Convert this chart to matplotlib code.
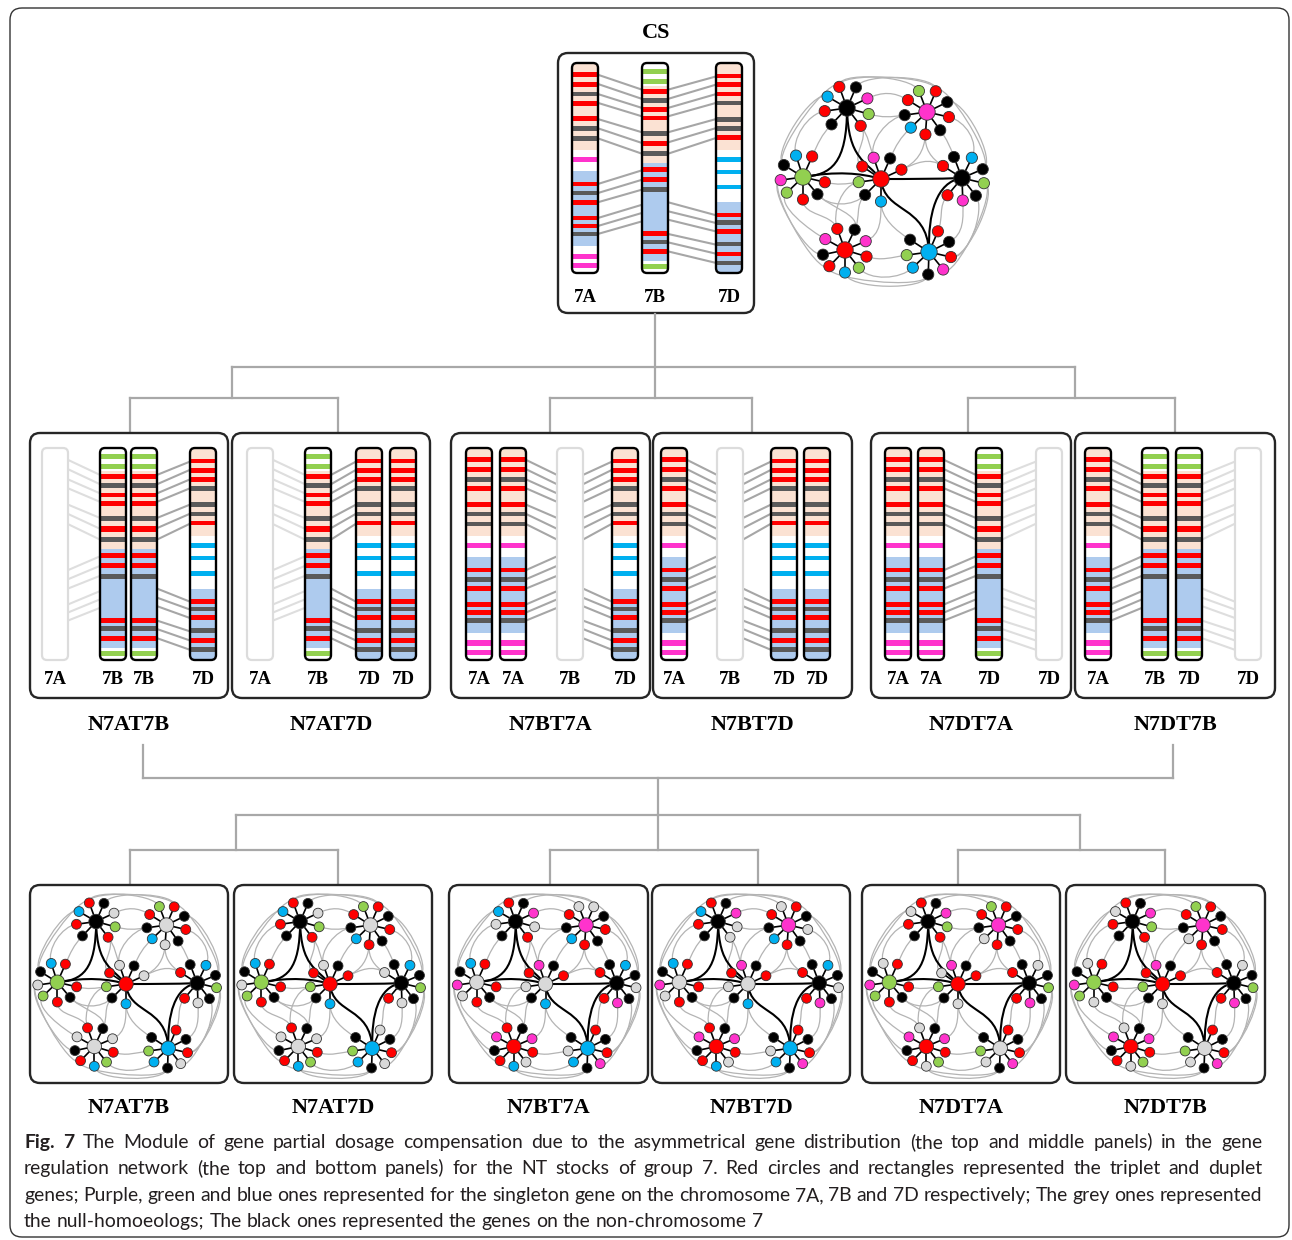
import numpy as np
import matplotlib
matplotlib.use("Agg")
import matplotlib.pyplot as plt
from matplotlib.patches import FancyBboxPatch, Rectangle, Circle, PathPatch
from matplotlib.path import Path

# ---------------------------------------------------------------- colours
COL = {"r": "#ff0000", "k": "#000000", "m": "#ff33cc", "g": "#92d050",
       "b": "#00b0f0", "n": "#d9d9d9", "p": "#fbe2d3", "l": "#aecbee",
       "w": "#ffffff", "d": "#5a5a5a"}

# ---------------------------------------------------------------- chromosome data
# (start, end, colour) as fractions of chromosome length from the top
CHROM_BACKGROUND = {
    "7A": [(0.000, 0.416, "p"), (0.416, 0.516, "w"), (0.516, 0.873, "l"), (0.873, 1.000, "w")],
    "7B": [(0.000, 0.108, "w"), (0.108, 0.476, "p"), (0.476, 0.944, "l"), (0.944, 1.000, "w")],
    "7D": [(0.000, 0.416, "p"), (0.416, 0.663, "w"), (0.663, 1.000, "l")],
}
CHROM_BANDS = {
    "7A": [(0.044, 0.068, "r"), (0.089, 0.113, "r"), (0.137, 0.159, "d"), (0.179, 0.203, "r"),
           (0.254, 0.278, "r"), (0.300, 0.322, "d"), (0.348, 0.370, "d"), (0.449, 0.473, "m"),
           (0.565, 0.587, "r"), (0.610, 0.630, "d"), (0.652, 0.675, "r"), (0.727, 0.749, "r"),
           (0.765, 0.787, "r"), (0.803, 0.825, "d"), (0.908, 0.932, "m"), (0.952, 0.976, "m")],
    "7B": [(0.029, 0.051, "g"), (0.076, 0.098, "g"), (0.124, 0.146, "r"), (0.167, 0.190, "d"),
           (0.210, 0.232, "r"), (0.251, 0.273, "r"), (0.322, 0.346, "d"), (0.370, 0.394, "r"),
           (0.421, 0.444, "d"), (0.497, 0.521, "r"), (0.544, 0.568, "r"), (0.592, 0.616, "d"),
           (0.802, 0.825, "r"), (0.841, 0.863, "d"), (0.886, 0.910, "r"), (0.956, 0.979, "g")],
    "7D": [(0.051, 0.073, "r"), (0.092, 0.116, "r"), (0.137, 0.159, "r"), (0.179, 0.202, "d"),
           (0.257, 0.279, "d"), (0.300, 0.322, "d"), (0.343, 0.365, "r"), (0.449, 0.473, "b"),
           (0.508, 0.530, "b"), (0.579, 0.602, "b"), (0.714, 0.735, "r"), (0.748, 0.770, "d"),
           (0.790, 0.813, "r"), (0.851, 0.873, "d"), (0.898, 0.921, "r"), (0.941, 0.963, "d")],
}
# homoeologous links (left-chromosome position, right-chromosome position)
LINKS_AB = [(0.056, 0.127), (0.100, 0.171), (0.148, 0.214), (0.190, 0.254), (0.267, 0.330),
            (0.311, 0.381), (0.359, 0.432), (0.576, 0.511), (0.619, 0.556), (0.663, 0.603),
            (0.738, 0.675), (0.776, 0.714), (0.814, 0.754)]
LINKS_BD = [(0.127, 0.064), (0.171, 0.103), (0.214, 0.148), (0.254, 0.190), (0.330, 0.267),
            (0.378, 0.310), (0.432, 0.357), (0.663, 0.725), (0.706, 0.762), (0.746, 0.802),
            (0.814, 0.865), (0.854, 0.908), (0.897, 0.952)]

# ---------------------------------------------------------------- stocks
CS_CHROMS = ["7A", "7B", "7D"]
NT_NAMES = ["N7AT7B", "N7AT7D", "N7BT7A", "N7BT7D", "N7DT7A", "N7DT7B"]
NT_CHROMS = [[None, "7B", "7B", "7D"], [None, "7B", "7D", "7D"], ["7A", "7A", None, "7D"],
             ["7A", None, "7D", "7D"], ["7A", "7A", "7B", None], ["7A", "7B", "7B", None]]
NT_LABELS = [["7A", "7B", "7B", "7D"], ["7A", "7B", "7D", "7D"], ["7A", "7A", "7B", "7D"],
             ["7A", "7B", "7D", "7D"], ["7A", "7A", "7D", "7D"], ["7A", "7B", "7D", "7D"]]
# (left slot, right slot, link set, faded)
NT_LINKS = [[(0, 1, "AB", True), (2, 3, "BD", False)],
            [(0, 1, "AB", True), (1, 2, "BD", False)],
            [(1, 2, "AB", False), (2, 3, "BD", False)],
            [(0, 1, "AB", False), (1, 2, "BD", False)],
            [(1, 2, "AB", False), (2, 3, "BD", True)],
            [(0, 1, "AB", False), (2, 3, "BD", True)]]

# ---------------------------------------------------------------- network node colours
# per hub: first letter = hub, remaining letters = satellites
CS_NET = ["kbrkmgrkr", "mgrkrkrbkr", "gbrkmgrkr", "rmkrrgkb", "krkbkgkmr", "rmrkmrgbrk", "bkrkrmkbg"]
NT_NETS = [
    ["kbrkngrkr", "ngrkrknbkr", "gbrkngrkr", "rnkrngkb", "krkbkgknr", "nnrknrgbrk", "bkrkrnkbg"],
    ["kbrkngrkr", "ngrkrkrbkr", "gbrkngrkr", "rnkrrgkb", "knkbkgknr", "nnrknrgbrk", "bknkrnkbg"],
    ["kbrkmnrkn", "mnnkrkrbkr", "nbrkmnrkr", "nmkrrnkb", "krkbknkmr", "rmrkmrnbrk", "bkrkrmkbn"],
    ["kbrkmnnkr", "mnrknkrbkr", "nbrkmnrkr", "nmkrrnkb", "krkbknkmr", "rmrkmrnbrk", "bkrkrmkbn"],
    ["knrkmgrkr", "mgrkrkrnkr", "gnrkmgrkr", "rmknrgkn", "krknkgkmr", "rmnkmrgnrk", "nkrkrmkng"],
    ["knrkmgrkr", "mgrkrkrnkr", "gnrkmgnkr", "rmkrrgkn", "krknkgkmr", "rmnkmrgnrk", "nkrkrmkng"],
]

CAPTION = [
    "Fig. 7 The Module of gene partial dosage compensation due to the asymmetrical gene distribution (the top and middle panels) in the gene",
    "regulation network (the top and bottom panels) for the NT stocks of group 7. Red circles and rectangles represented the triplet and duplet",
    "genes; Purple, green and blue ones represented for the singleton gene on the chromosome 7A, 7B and 7D respectively; The grey ones represented",
    "the null-homoeologs; The black ones represented the genes on the non-chromosome 7",
]

# ---------------------------------------------------------------- layout
W, H = 1292, 1240
CH_W = 26
SERIF = ["Liberation Serif", "DejaVu Serif"]
EDGE = "#262626"
TREE = "#a8a8a8"

MID_BOXES = [(30, 228), (232, 430), (451, 650), (653, 852), (871, 1071), (1075, 1275)]
MID_Y = (433, 698)
MID_SLOTS = [[25, 83, 114, 173], [28, 86, 137, 171], [28, 62, 119, 174],
             [21, 77, 131, 164], [27, 60, 118, 178], [23, 80, 114, 173]]
BOT_BOXES = [(30, 228), (234, 432), (449, 648), (652, 850), (862, 1060), (1066, 1265)]
BOT_Y = (885, 1083)

HUB_OFF = [(-34, -71), (46, -67), (-78, -2), (0, 0), (81, -1), (-36, 71), (48, 73)]
SAT_ANG = [[149.7, 110, 66.5, 25, -15.5, -52.6, 226.7, 188],
           [111, 67, 26, -13, -54, -94, 224, 188, 148],
           [108, 66, 148, 188, 224, 270, 310, 346.6],
           [109, 66, 146, 24.6, 188, 225, 270],
           [147.6, 111, 64, 23, -13.4, -52, -88, 230],
           [151, 110, 64.5, 23, -17, -52, -90, 226, 192],
           [147, 66.7, 26.6, -13, -51, -92, 224, 188]]
SAT_R = 22.5
GREY_EDGES = [((0, 1), (1, 0)), ((0, 2), (1, 1)), ((0, 3), (1, 8)), ((0, 4), (1, 7)), ((0, 5), (3, 0)),
              ((0, 0), (2, 2)), ((0, 7), (2, 0)), ((0, 6), (2, 1)), ((1, 6), (3, 1)), ((1, 5), (3, 3)),
              ((1, 4), (4, 1)), ((1, 3), (4, 2)), ((1, 2), (4, 3)), ((2, 7), (3, 4)), ((2, 6), (3, 5)),
              ((2, 5), (5, 1)), ((2, 4), (5, 0)), ((2, 3), (5, 8)), ((3, 5), (5, 2)), ((3, 6), (5, 3)),
              ((3, 6), (6, 0)), ((3, 3), (4, 0)), ((4, 7), (6, 1)), ((4, 6), (6, 2)), ((4, 5), (6, 3)),
              ((4, 4), (6, 4)), ((5, 4), (6, 7)), ((5, 5), (6, 6)), ((5, 6), (6, 5)), ((2, 2), (0, 1)),
              ((4, 3), (1, 1)), ((2, 3), (5, 7)), ((5, 7), (6, 5)), ((0, 1), (1, 1)), ((4, 4), (6, 3)),
              ((1, 7), (3, 0)), ((3, 4), (5, 1)), ((3, 2), (0, 5)), ((2, 6), (5, 2)), ((1, 5), (4, 0))]
HUB_LINKS = [[(-34, -71), (-34, -15), (-50, -4), (-78, -2)],
             [(-34, -71), (-33, -20), (-15, -18), (0, 0)],
             [(-78, -2), (-45, -8), (-20, -6), (0, 0)],
             [(0, 0), (30, 0), (55, 0), (81, -1)],
             [(0, 0), (3, 35), (46, 25), (48, 73)],
             [(81, -1), (55, 3), (47, 35), (48, 73)]]


def rbox(ax, x0, y0, x1, y1, r, lw, ec, fc="none", z=1):
    p = FancyBboxPatch((x0, y0), x1 - x0, y1 - y0,
                       boxstyle=f"round,pad=0,rounding_size={r}",
                       lw=lw, ec=ec, fc=fc, zorder=z)
    ax.add_patch(p)
    return p


def draw_chrom(ax, xc, y0, y1, kind):
    x0 = xc - CH_W / 2
    if kind is None:
        rbox(ax, x0, y0, x0 + CH_W, y1, 5, 1.6, "#dcdcdc", "white", z=3)
        return
    base = rbox(ax, x0, y0, x0 + CH_W, y1, 5, 0, "none", "white", z=3)
    h = y1 - y0
    for a, b, c in CHROM_BACKGROUND[kind] + CHROM_BANDS[kind]:
        rect = Rectangle((x0, y0 + a * h), CH_W, (b - a) * h, fc=COL[c], ec="none", zorder=4)
        ax.add_patch(rect)
        rect.set_clip_path(base)
    rbox(ax, x0, y0, x0 + CH_W, y1, 5, 1.7, "black", "none", z=5)


def draw_links(ax, xl, xr, y0, y1, pairs, color):
    h = y1 - y0
    for a, b in pairs:
        ax.plot([xl, xr], [y0 + a * h, y0 + b * h], color=color, lw=1.5,
                zorder=2, solid_capstyle="butt")


def draw_network(ax, cx, cy, s, colours):
    hubs = [np.array([cx + dx * s, cy + dy * s]) for dx, dy in HUB_OFF]
    sats, dirs = [], []
    for hi, angs in enumerate(SAT_ANG):
        row, drow = [], []
        for a in angs:
            u = np.array([np.cos(np.radians(a)), -np.sin(np.radians(a))])
            row.append(hubs[hi] + u * SAT_R * s)
            drow.append(u)
        sats.append(row)
        dirs.append(drow)
    # grey inter-module edges
    for (h1, s1), (h2, s2) in GREY_EDGES:
        p1, p2 = sats[h1][s1], sats[h2][s2]
        d = np.linalg.norm(p2 - p1)
        k = min(0.4 * d, 17 * s)
        c1 = p1 + dirs[h1][s1] * k
        c2 = p2 + dirs[h2][s2] * k
        path = Path([p1, c1, c2, p2], [Path.MOVETO, Path.CURVE4, Path.CURVE4, Path.CURVE4])
        ax.add_patch(PathPatch(path, fc="none", ec="#b4b4b4", lw=0.9, zorder=6))
    # black hub-to-hub curves
    for pts in HUB_LINKS:
        verts = [(cx + x * s, cy + y * s) for x, y in pts]
        path = Path(verts, [Path.MOVETO, Path.CURVE4, Path.CURVE4, Path.CURVE4])
        ax.add_patch(PathPatch(path, fc="none", ec="black", lw=1.5, zorder=7))
    # spokes and nodes
    for hi, code in enumerate(colours):
        for si, p in enumerate(sats[hi]):
            ax.plot([hubs[hi][0], p[0]], [hubs[hi][1], p[1]], color="black", lw=1.2, zorder=8)
        for si, p in enumerate(sats[hi]):
            ax.add_patch(Circle(p, 5.6 * s, fc=COL[code[si + 1]], ec="#333333", lw=0.6, zorder=9))
        ax.add_patch(Circle(hubs[hi], 8.2 * s, fc=COL[code[0]], ec="#333333", lw=0.6, zorder=10))


def tree(ax, segs):
    for (x0, y0), (x1, y1) in segs:
        ax.plot([x0, x1], [y0, y1], color=TREE, lw=1.6, zorder=1, solid_capstyle="projecting")


fig = plt.figure(figsize=(W / 100, H / 100), dpi=100)
ax = fig.add_axes([0, 0, 1, 1])
ax.set_xlim(0, W)
ax.set_ylim(H, 0)
ax.axis("off")

# outer frame
rbox(ax, 10, 8, 1289, 1237, 12, 1.0, "#333333", "none", z=0)

# ---------------------------------------------------------------- CS panel
ax.text(656, 33, "CS", ha="center", va="center", fontsize=16, fontweight="bold", family=SERIF)
rbox(ax, 558, 53, 754, 313, 10, 1.7, EDGE, "white", z=1)
cs_x = [585, 655, 729]
for xc, kind in zip(cs_x, CS_CHROMS):
    draw_chrom(ax, xc, 63, 273, kind)
    ax.text(xc, 297, kind, ha="center", va="center", fontsize=13.5, fontweight="bold", family=SERIF)
draw_links(ax, cs_x[0] + CH_W / 2, cs_x[1] - CH_W / 2, 63, 273, LINKS_AB, "#a6a6a6")
draw_links(ax, cs_x[1] + CH_W / 2, cs_x[2] - CH_W / 2, 63, 273, LINKS_BD, "#a6a6a6")
draw_network(ax, 881, 179, 1.0, CS_NET)

# ---------------------------------------------------------------- connectors
tree(ax, [((655, 314), (655, 398)), ((232, 367), (1075, 367)),
          ((232, 367), (232, 398)), ((1075, 367), (1075, 398)),
          ((130, 398), (338, 398)), ((550, 398), (752, 398)), ((968, 398), (1175, 398)),
          ((130, 398), (130, 433)), ((338, 398), (338, 433)), ((550, 398), (550, 433)),
          ((752, 398), (752, 433)), ((968, 398), (968, 433)), ((1175, 398), (1175, 433)),
          ((143, 745), (143, 778)), ((1173, 745), (1173, 778)), ((143, 778), (1173, 778)),
          ((658, 778), (658, 815)), ((236, 815), (1080, 815)),
          ((236, 815), (236, 850)), ((658, 815), (658, 850)), ((1080, 815), (1080, 850)),
          ((130, 850), (338, 850)), ((550, 850), (758, 850)), ((958, 850), (1165, 850)),
          ((130, 850), (130, 885)), ((338, 850), (338, 885)), ((550, 850), (550, 885)),
          ((758, 850), (758, 885)), ((958, 850), (958, 885)), ((1165, 850), (1165, 885))])

# ---------------------------------------------------------------- middle panels
for i, name in enumerate(NT_NAMES):
    L, R = MID_BOXES[i]
    rbox(ax, L, MID_Y[0], R, MID_Y[1], 10, 1.7, EDGE, "white", z=1)
    xs = [L + dx for dx in MID_SLOTS[i]]
    for xc, kind, lab in zip(xs, NT_CHROMS[i], NT_LABELS[i]):
        draw_chrom(ax, xc, 448, 660, kind)
        ax.text(xc, 679, lab, ha="center", va="center", fontsize=13.5, fontweight="bold", family=SERIF)
    for a, b, which, faded in NT_LINKS[i]:
        draw_links(ax, xs[a] + CH_W / 2, xs[b] - CH_W / 2, 448, 660,
                   LINKS_AB if which == "AB" else LINKS_BD, "#dedede" if faded else "#a6a6a6")
    ax.text((L + R) / 2, 725, name, ha="center", va="center", fontsize=16,
            fontweight="bold", family=SERIF)

# ---------------------------------------------------------------- bottom networks
for i, name in enumerate(NT_NAMES):
    L, R = BOT_BOXES[i]
    rbox(ax, L, BOT_Y[0], R, BOT_Y[1], 10, 1.7, EDGE, "white", z=1)
    draw_network(ax, (L + R) / 2 - 3, 984, 0.88, NT_NETS[i])
    ax.text((L + R) / 2, 1108, name, ha="center", va="center", fontsize=16,
            fontweight="bold", family=SERIF)

# ---------------------------------------------------------------- caption (justified)
CAP_FONT = ["Lato", "DejaVu Sans"]
CAP_COL = "#231f20"
fig.canvas.draw()
renderer = fig.canvas.get_renderer()


def width(s, fs, bold=False):
    t = ax.text(0, 0, s, fontsize=fs, family=CAP_FONT, fontweight="bold" if bold else "normal")
    w = t.get_window_extent(renderer).width
    t.remove()
    return w


def natural(line, fs, first):
    words = line.split(" ")
    sp = width("x x", fs) - width("xx", fs)
    return sum(width(w, fs, bold=first and j < 2) for j, w in enumerate(words)) + (len(words) - 1) * sp


x_left, x_right = 24, 1262
fs0 = 13.0
longest = max(natural(CAPTION[i], fs0, i == 0) for i in range(3))
fs = fs0 * (x_right - x_left) / longest
space = width("x x", fs) - width("xx", fs)
baselines = [1148, 1174, 1201, 1227]
for li, line in enumerate(CAPTION):
    words = line.split(" ")
    bolds = [li == 0 and j < 2 for j in range(len(words))]
    ws = [width(w, fs, b) for w, b in zip(words, bolds)]
    gap = space if li == len(CAPTION) - 1 else (x_right - x_left - sum(ws)) / (len(words) - 1)
    x = x_left
    for w, wd, b in zip(words, ws, bolds):
        ax.text(x, baselines[li], w, fontsize=fs, family=CAP_FONT, color=CAP_COL,
                fontweight="bold" if b else "normal", va="baseline", ha="left")
        x += wd + gap

fig.savefig("out.png", dpi=100)
